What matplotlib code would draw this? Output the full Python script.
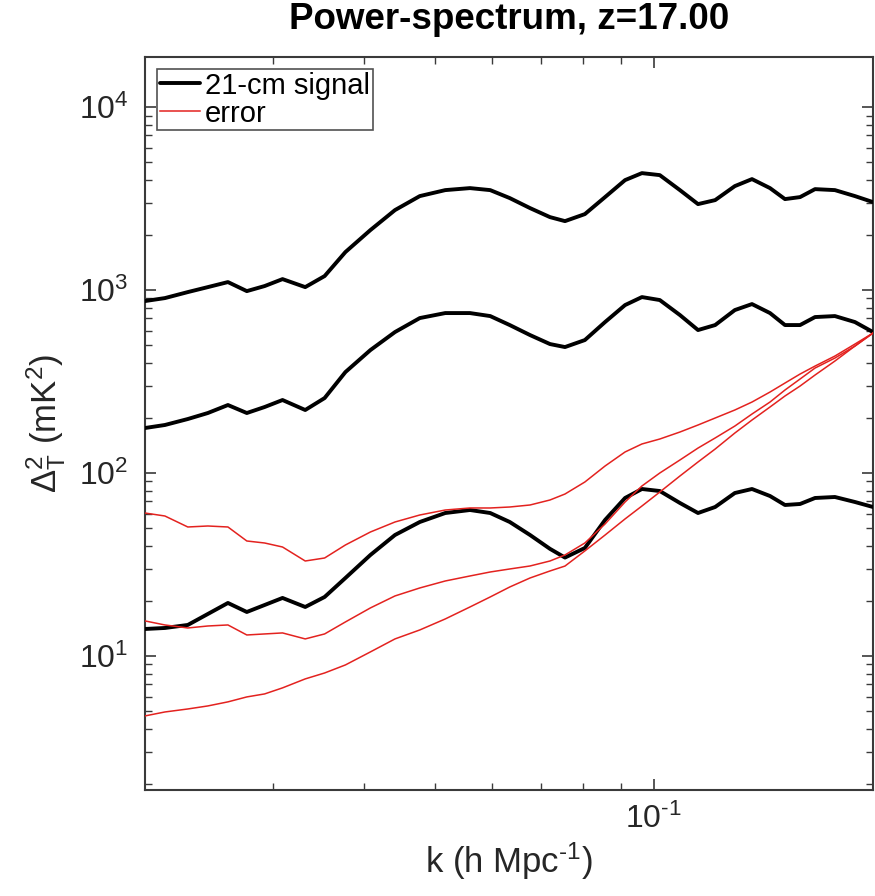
import matplotlib
matplotlib.use("Agg")
import matplotlib.pyplot as plt
from matplotlib.ticker import LogLocator, NullFormatter, FixedLocator, FixedFormatter

plt.rcParams['font.family'] = ['Liberation Sans', 'DejaVu Sans']
plt.rcParams['mathtext.fontset'] = 'custom'
plt.rcParams['mathtext.rm'] = 'Liberation Sans'
plt.rcParams['mathtext.it'] = 'Liberation Sans:italic'
plt.rcParams['mathtext.bf'] = 'Liberation Sans:bold'

# ---- data ----
k = [0.0200, 0.0213, 0.0229, 0.0244, 0.0260, 0.0276, 0.0292, 0.0309, 0.0332, 0.0353,
     0.0377, 0.0408, 0.0441, 0.0477, 0.0517, 0.0559, 0.0596, 0.0634, 0.0676, 0.0720,
     0.0755, 0.0804, 0.0857, 0.0913, 0.0963, 0.1019, 0.1086, 0.1150, 0.1214, 0.1292,
     0.1364, 0.1444, 0.1514, 0.1588, 0.1665, 0.1773, 0.1889, 0.2000]

signal_high = [871, 904, 975, 1038, 1106, 987, 1052, 1148, 1038, 1193,
               1614, 2128, 2737, 3264, 3519, 3609, 3519, 3183, 2806, 2505,
               2382, 2602, 3223, 3991, 4358, 4250, 3519, 2951, 3103, 3701,
               4042, 3609, 3143, 3223, 3563, 3519, 3264, 3026]

signal_mid = [176.2, 183.0, 197.3, 212.8, 235.3, 212.8, 229.5, 250.6, 221.0, 256.9,
              356.3, 469.9, 589.6, 703.1, 748.7, 748.7, 720.9, 643.8, 567.6, 506.9,
              488.1, 533.1, 668.6, 827.9, 915.6, 882.0, 730.3, 604.6, 643.8, 777.5,
              838.4, 748.7, 643.8, 643.8, 712.0, 720.9, 668.6, 589.6]

signal_low = [14.04, 14.22, 14.77, 16.96, 19.48, 17.39, 18.99, 20.75, 18.52, 21.01,
              26.68, 35.64, 45.83, 53.98, 60.44, 62.77, 60.44, 53.98, 45.83, 38.5,
              34.5, 38.92, 55.36, 73.02, 81.77, 79.72, 68.57, 60.44, 65.19, 77.74,
              81.77, 74.86, 66.86, 67.71, 73.02, 73.94, 69.43, 65.19]

error_high = [60.44, 58.21, 50.69, 51.33, 50.69, 42.50, 41.44, 39.40, 33.04, 34.31,
              40.42, 47.59, 53.98, 58.95, 62.77, 64.39, 64.39, 65.19, 66.86, 71.20,
              76.76, 89.30, 109.2, 130.3, 144.1, 153.4, 167.5, 183.0, 199.8, 221.0,
              244.3, 277.1, 310.3, 347.5, 384.2, 435.8, 506.9, 582.1]

error_mid = [15.54, 14.77, 14.22, 14.58, 14.77, 13.02, 13.19, 13.36, 12.39, 13.19,
             15.34, 18.30, 21.28, 23.53, 25.69, 27.36, 28.77, 29.88, 31.03, 33.04,
             35.64, 41.44, 52.64, 69.43, 84.92, 100.0, 117.8, 136.9, 155.4, 180.6,
             210.1, 244.3, 284.2, 326.4, 374.8, 425.0, 494.3, 582.1]

error_low = [4.70, 4.94, 5.13, 5.33, 5.61, 5.97, 6.20, 6.69, 7.49, 8.07,
             8.93, 10.52, 12.39, 13.87, 15.93, 18.52, 21.01, 23.82, 26.68, 29.14,
             31.0, 37.5, 45.8, 56.1, 66.0, 78.7, 96.3, 114.9, 135.2, 165.4,
             194.8, 229.5, 263.6, 298.8, 343.2, 409.3, 494.3, 582.1]

signals = [signal_high, signal_mid, signal_low]
errors = [error_high, error_mid, error_low]

title = "Power-spectrum, z=17.00"
xlabel = r"k (h Mpc$^{\text{-1}}$)"
ylabel = r"$\Delta_{\mathrm{T}}^{2}$ (mK$^2$)"
xtick_label = r"10$^{\text{-1}}$"
legend_labels = ["21-cm signal", "error"]

# ---- figure ----
fig = plt.figure(figsize=(8.75, 8.96), dpi=100)
ax = fig.add_axes([0.1657, 0.1183, 0.832, 0.8181])

spine_col = '#3a3a3a'
for i, s in enumerate(signals):
    ax.plot(k, s, color='black', lw=2.8, solid_capstyle='round', solid_joinstyle='round',
            label=legend_labels[0] if i == 0 else None, zorder=3)
for i, e in enumerate(errors):
    ax.plot(k, e, color='#e3221f', lw=1.1, solid_joinstyle='round',
            label=legend_labels[1] if i == 0 else None, zorder=4)

ax.set_xscale('log')
ax.set_yscale('log')
ax.set_xlim(0.02, 0.2)
ax.set_ylim(1.85, 18800)

ax.xaxis.set_major_locator(FixedLocator([0.1]))
ax.xaxis.set_major_formatter(FixedFormatter([xtick_label]))
ax.xaxis.set_minor_locator(FixedLocator([0.03, 0.04, 0.05, 0.06, 0.07, 0.08, 0.09]))
ax.xaxis.set_minor_formatter(NullFormatter())
ax.yaxis.set_major_locator(LogLocator(base=10, numticks=10))
ax.yaxis.set_minor_locator(LogLocator(base=10, subs=range(2, 10), numticks=20))
ax.yaxis.set_minor_formatter(NullFormatter())

ax.tick_params(which='both', direction='in', top=True, right=True, colors=spine_col,
               labelcolor='#262626', labelsize=23)
ax.tick_params(which='major', length=8, width=1.2)
ax.tick_params(which='minor', length=5, width=1.0)
ax.tick_params(axis='x', pad=10)
ax.tick_params(axis='y', pad=12)
for sp in ax.spines.values():
    sp.set_color(spine_col)
    sp.set_linewidth(1.5)

ax.set_title(title, fontsize=26.5, fontweight='bold', pad=20)
ax.set_xlabel(xlabel, fontsize=25, color='#262626', labelpad=4)
ax.set_ylabel(ylabel, fontsize=25, color='#262626', labelpad=8)

leg = ax.legend(loc='upper left', fontsize=21, frameon=True, fancybox=False,
                edgecolor='#262626', borderpad=0.1, labelspacing=0.0,
                handlelength=1.4, handletextpad=0.15, borderaxespad=0.4)
leg.get_frame().set_linewidth(1.2)

fig.savefig('out.png', dpi=100)
